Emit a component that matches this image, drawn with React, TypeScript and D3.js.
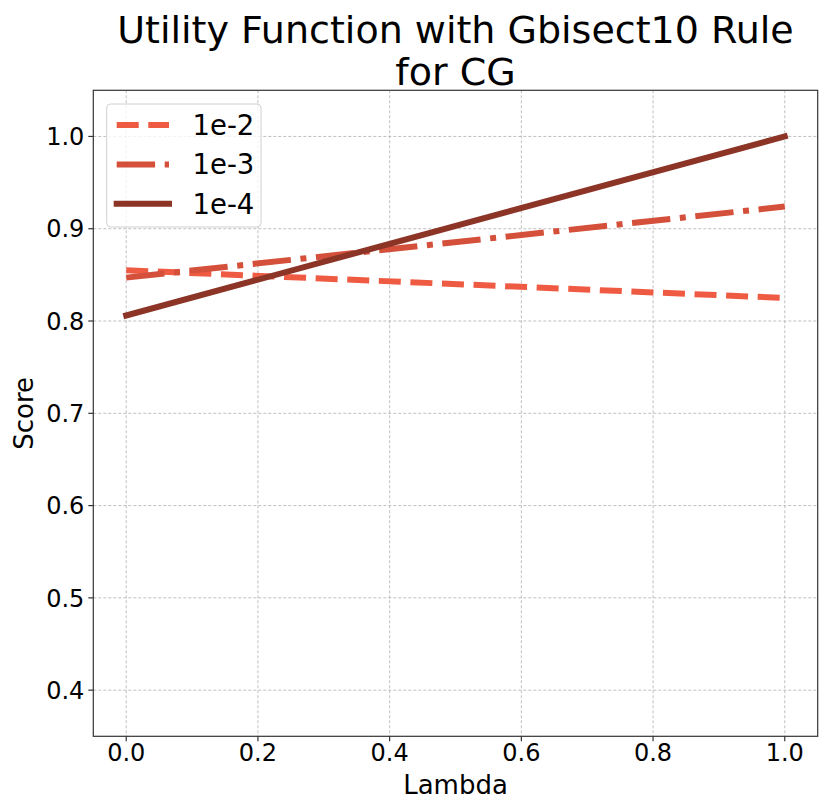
import React from "react";
import * as d3 from "d3";

const lambdas = [0.0, 1.0];
const seriesNames = ["1e-2", "1e-3", "1e-4"];
const scores1e2 = [0.855, 0.825];
const scores1e3 = [0.847, 0.924];
const scores1e4 = [0.806, 1.0];
const xTicks = [0.0, 0.2, 0.4, 0.6, 0.8, 1.0];
const yTicks = [0.4, 0.5, 0.6, 0.7, 0.8, 0.9, 1.0];

const W = 830;
const H = 811;
const M = { left: 93.3, right: 817.7, top: 90.3, bottom: 736.3 };
const FONT = "DejaVu Sans, sans-serif";

const colors = ["#EF5B42", "#D4503A", "#8C3426"];
const dashes = ["22,9.6", "38.4,9.6,6,9.6", null];
const allSeries = [scores1e2, scores1e3, scores1e4];

export default function App() {
  const x = d3.scaleLinear().domain([-0.05, 1.05]).range([M.left, M.right]);
  const y = d3.scaleLinear().domain([0.35, 1.05]).range([M.bottom, M.top]);
  const line = d3
    .line<[number, number]>()
    .x((d) => x(d[0]))
    .y((d) => y(d[1]));

  return (
    <svg width={W} height={H} style={{ position: "absolute", left: 0, top: 0, background: "#fff" }} fontFamily={FONT}>
      <rect x={0} y={0} width={W} height={H} fill="#fff" />
      {/* grid */}
      {xTicks.map((t) => (
        <line key={"gx" + t} x1={x(t)} x2={x(t)} y1={M.top} y2={M.bottom} stroke="#b0b0b0" strokeWidth={0.8} strokeDasharray="3,2" />
      ))}
      {yTicks.map((t) => (
        <line key={"gy" + t} x1={M.left} x2={M.right} y1={y(t)} y2={y(t)} stroke="#b0b0b0" strokeWidth={0.8} strokeDasharray="3,2" />
      ))}
      {/* lines */}
      {allSeries.map((s, i) => (
        <path
          key={"s" + i}
          d={line(lambdas.map((l, j) => [l, s[j]] as [number, number])) || ""}
          fill="none"
          stroke={colors[i]}
          strokeWidth={6}
          strokeDasharray={dashes[i] || undefined}
          strokeLinecap={dashes[i] ? "butt" : "square"}
        />
      ))}
      {/* frame */}
      <rect x={M.left} y={M.top} width={M.right - M.left} height={M.bottom - M.top} fill="none" stroke="#333" strokeWidth={1.2} />
      {/* x ticks */}
      {xTicks.map((t) => (
        <g key={"xt" + t}>
          <line x1={x(t)} x2={x(t)} y1={M.bottom} y2={M.bottom + 5} stroke="#333" strokeWidth={1.2} />
          <text x={x(t)} y={M.bottom + 25} textAnchor="middle" fontSize={24} fill="#000">
            {t.toFixed(1)}
          </text>
        </g>
      ))}
      {/* y ticks */}
      {yTicks.map((t) => (
        <g key={"yt" + t}>
          <line x1={M.left - 5} x2={M.left} y1={y(t)} y2={y(t)} stroke="#333" strokeWidth={1.2} />
          <text x={M.left - 9} y={y(t)} dy="0.36em" textAnchor="end" fontSize={24} fill="#000">
            {t.toFixed(1)}
          </text>
        </g>
      ))}
      {/* axis labels */}
      <text x={(M.left + M.right) / 2} y={794} textAnchor="middle" fontSize={26} fill="#000">
        Lambda
      </text>
      <text transform={`translate(33, ${(M.top + M.bottom) / 2}) rotate(-90)`} textAnchor="middle" fontSize={26} fill="#000">
        Score
      </text>
      {/* title */}
      <text x={(M.left + M.right) / 2} y={43} textAnchor="middle" fontSize={38} fill="#000">
        Utility Function with Gbisect10 Rule
      </text>
      <text x={(M.left + M.right) / 2} y={85} textAnchor="middle" fontSize={38} fill="#000">
        for CG
      </text>
      {/* legend */}
      <rect x={106.7} y={104} width={154.3} height={123} rx={4} fill="#fff" fillOpacity={0.8} stroke="#d0d0d0" strokeWidth={1} />
      {seriesNames.map((n, i) => {
        const cy = 125 + i * 39.4;
        return (
          <g key={"lg" + i}>
            <line
              x1={116.7}
              x2={169}
              y1={cy}
              y2={cy}
              stroke={colors[i]}
              strokeWidth={6}
              strokeDasharray={dashes[i] || undefined}
              strokeLinecap={dashes[i] ? "butt" : "square"}
            />
            <text x={192.5} y={cy} dy="0.36em" fontSize={27.5} fill="#000">
              {n}
            </text>
          </g>
        );
      })}
    </svg>
  );
}
